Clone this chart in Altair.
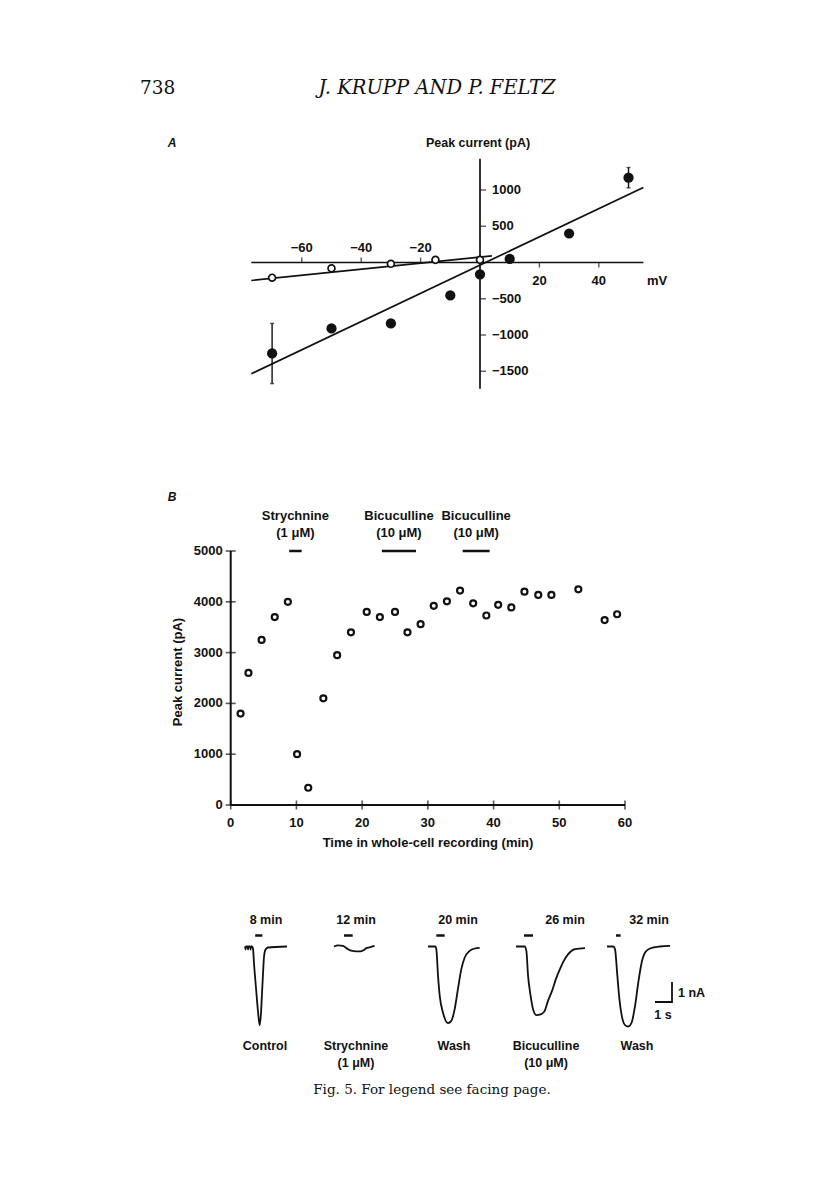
import altair as alt
import pandas as pd

M = 8  # page margin of the browser

# ---------------- text ----------------
PAGE_NUMBER = "738"
RUNNING_HEAD = "J. KRUPP AND P. FELTZ"
CAPTION = "Fig. 5. For legend see facing page."

# ---------------- Panel A : I-V relation ----------------
A_V_FILLED = [-70, -50, -30, -10, 0, 10, 30, 50]
A_I_FILLED = [-1255, -910, -840, -455, -165, 50, 400, 1170]
A_ERR_V = [-70, 50]
A_ERR_LO = [-1670, 1030]
A_ERR_HI = [-840, 1310]
A_V_OPEN = [-70, -50, -30, -15, 0]
A_I_OPEN = [-210, -80, -18, 37, 37]
A_FIT_FILLED_V = [-77, 55]
A_FIT_FILLED_I = [-1535, 1035]
A_FIT_OPEN_V = [-77, 4]
A_FIT_OPEN_I = [-248, 92]
A_XTICKS_NEG = [-60, -40, -20]
A_XTICKS_POS = [20, 40]
A_YTICKS = [1000, 500, -500, -1000, -1500]
A_XAXIS = [-77, 55]
A_YAXIS = [-1740, 1430]

# ---------------- Panel B : time course ----------------
B_T = [1.5, 2.7, 4.7, 6.7, 8.7, 10.1, 11.8, 14.1, 16.2, 18.3, 20.7, 22.7, 25.0, 26.9,
       28.9, 30.9, 32.9, 34.9, 36.9, 38.9, 40.7, 42.7, 44.7, 46.8, 48.8, 52.9, 56.9, 58.8]
B_I = [1800, 2600, 3250, 3700, 4000, 1000, 340, 2100, 2950, 3400, 3800, 3700, 3800, 3400,
       3560, 3920, 4010, 4220, 3970, 3730, 3940, 3890, 4200, 4135, 4135, 4245, 3640, 3755]
B_DRUG_NAME = ["Strychnine", "Bicuculline", "Bicuculline"]
B_DRUG_CONC = ["(1 \u03bcM)", "(10 \u03bcM)", "(10 \u03bcM)"]
B_DRUG_START = [8.9, 23.0, 35.3]
B_DRUG_END = [10.8, 28.2, 39.4]
B_DRUG_LEVEL = 5000
B_XTICKS = [0, 10, 20, 30, 40, 50, 60]
B_YTICKS = [0, 1000, 2000, 3000, 4000, 5000]

# ---------------- Panel C : current traces (s, nA) ----------------
C1_T = [0, 0.03, 0.06, 0.15, 0.18, 0.21, 0.30, 0.33, 0.36, 0.41, 0.47, 0.53, 0.65, 0.76,
        0.86, 0.94, 1.00, 1.06, 1.12, 1.21, 1.35, 2.47]
C1_I = [0, -0.15, 0, 0, -0.15, 0, 0, -0.15, 0, 0, -0.1, -0.85, -2.1, -3.2,
        -3.93, -3.35, -2.35, -1.35, -0.5, -0.15, -0.05, 0]
C2_T = [0, 0.24, 0.53, 0.82, 1.02, 1.31, 1.57, 1.76, 1.90, 2.10, 2.39]
C2_I = [0, 0.06, 0.03, -0.13, -0.21, -0.24, -0.24, -0.18, -0.08, -0.04, 0.03]
C3_T = [0, 0.43, 0.49, 0.59, 0.69, 0.88, 1.18, 1.37, 1.57, 1.76, 1.96, 2.16, 2.45, 2.75, 3.04]
C3_I = [0, 0, -0.13, -1.47, -2.47, -3.30, -3.83, -3.72, -3.13, -2.13, -1.13, -0.55, -0.22,
        -0.10, -0.07]
C4_T = [0, 0.51, 0.61, 0.71, 0.86, 1.00, 1.19, 1.49, 1.69, 1.88, 2.12, 2.35, 2.59, 2.78,
        3.07, 3.47, 4.06]
C4_I = [0, 0, -0.22, -1.47, -2.47, -3.13, -3.43, -3.38, -3.22, -2.72, -2.22, -1.62, -1.12,
        -0.77, -0.38, -0.13, -0.08]
C5_T = [0, 0.37, 0.47, 0.61, 0.73, 0.87, 1.06, 1.25, 1.45, 1.65, 1.84, 2.04, 2.24, 2.53,
        3.12, 3.71]
C5_I = [0, 0, -0.13, -1.47, -2.63, -3.47, -3.93, -4.00, -3.80, -2.97, -1.80, -0.80, -0.30,
        -0.10, 0, 0.03]
C_TRACES_T = [C1_T, C2_T, C3_T, C4_T, C5_T]
C_TRACES_I = [C1_I, C2_I, C3_I, C4_I, C5_I]
C_APP_START = [0.60, 0.59, 0.49, 0.47, 0.53]
C_APP_END = [1.02, 1.10, 0.98, 1.00, 0.80]
C_TIME_LABELS = ["8 min", "12 min", "20 min", "26 min", "32 min"]
C_COND = ["Control", "Strychnine", "Wash", "Bicuculline", "Wash"]
C_COND2 = ["", "(1 \u03bcM)", "", "(10 \u03bcM)", ""]
SCALEBAR_T = [0, 1, 1]
SCALEBAR_I = [0, 0, 1]

# ---------------- style / layout ----------------
SANS = "Liberation Sans"
SERIF = "DejaVu Serif"
INK = "#111111"
ONE = pd.DataFrame({"a": [0]})


def sc(domain, page_range):
    return alt.Scale(domain=domain, range=[p - M for p in page_range], nice=False, zero=False)


A_XS = sc([-80, 60], [242.4, 658.2])
A_YS = sc([-2000, 2000], [407.5, 117.5])
B_XS = sc([0, 60], [230.7, 625.0])
B_YS = sc([0, 5000], [805.0, 551.0])
C_X0 = [245, 334, 428, 516, 607]
C_YS = sc([-5, 1], [1046.5, 926.5])
SB_XS = sc([0, 1], [655, 672])
SB_YS = sc([0, 1], [1002, 982])


def X(f, s):
    return alt.X(f, type="quantitative", scale=s, axis=None)


def Y(f, s):
    return alt.Y(f, type="quantitative", scale=s, axis=None)


def label(text, x, y, size=13, align="center", font=SANS, weight="bold", style="normal", angle=0):
    return alt.Chart(ONE).mark_text(
        text=text, align=align, baseline="middle", font=font, fontSize=size,
        fontWeight=weight, fontStyle=style, angle=angle, color=INK
    ).encode(x=alt.value(x - M), y=alt.value(y - M))


layers = []

# header
layers.append(label(PAGE_NUMBER, 140, 88, size=18.5, align="left", font=SERIF, weight="normal"))
layers.append(label(RUNNING_HEAD, 437, 88, size=19.5, font=SERIF, weight="normal", style="italic"))

# ================= Panel A =================
layers.append(label("A", 172, 143, size=12, style="italic"))
layers.append(label("Peak current (pA)", 478, 143, size=12.5))
layers.append(label("mV", 657, 281, size=13))

axA = pd.DataFrame({"v0": [A_XAXIS[0]], "v1": [A_XAXIS[1]], "i": [0]})
layers.append(alt.Chart(axA).mark_rule(strokeWidth=1.7, color=INK).encode(
    x=X("v0", A_XS), x2="v1", y=Y("i", A_YS)))
ayA = pd.DataFrame({"v": [0], "i0": [A_YAXIS[0]], "i1": [A_YAXIS[1]]})
layers.append(alt.Chart(ayA).mark_rule(strokeWidth=1.7, color=INK).encode(
    x=X("v", A_XS), y=Y("i0", A_YS), y2="i1"))

tn = pd.DataFrame({"v": A_XTICKS_NEG, "i": [0] * len(A_XTICKS_NEG),
                   "t": ["\u2212" + str(-v) for v in A_XTICKS_NEG]})
tp = pd.DataFrame({"v": A_XTICKS_POS, "i": [0] * len(A_XTICKS_POS),
                   "t": [str(v) for v in A_XTICKS_POS]})
layers.append(alt.Chart(tn).mark_tick(orient="vertical", size=5, thickness=1.4, yOffset=-2.5,
                                      color=INK).encode(x=X("v", A_XS), y=Y("i", A_YS)))
layers.append(alt.Chart(tp).mark_tick(orient="vertical", size=5, thickness=1.4, yOffset=2.5,
                                      color=INK).encode(x=X("v", A_XS), y=Y("i", A_YS)))
layers.append(alt.Chart(tn).mark_text(dy=-15, font=SANS, fontSize=13, fontWeight="bold",
                                      color=INK).encode(x=X("v", A_XS), y=Y("i", A_YS), text="t:N"))
layers.append(alt.Chart(tp).mark_text(dy=18, font=SANS, fontSize=13, fontWeight="bold",
                                      color=INK).encode(x=X("v", A_XS), y=Y("i", A_YS), text="t:N"))
ty = pd.DataFrame({"v": [0] * len(A_YTICKS), "i": A_YTICKS,
                   "t": [str(i) if i > 0 else "\u2212" + str(-i) for i in A_YTICKS]})
layers.append(alt.Chart(ty).mark_tick(orient="horizontal", size=6, thickness=1.4, xOffset=3,
                                      color=INK).encode(x=X("v", A_XS), y=Y("i", A_YS)))
layers.append(alt.Chart(ty).mark_text(align="left", dx=12, font=SANS, fontSize=13,
                                      fontWeight="bold", color=INK).encode(
    x=X("v", A_XS), y=Y("i", A_YS), text="t:N"))

# fit lines
fitF = pd.DataFrame({"v": A_FIT_FILLED_V, "i": A_FIT_FILLED_I})
fitO = pd.DataFrame({"v": A_FIT_OPEN_V, "i": A_FIT_OPEN_I})
for d in (fitF, fitO):
    layers.append(alt.Chart(d).mark_line(strokeWidth=1.7, color=INK).encode(
        x=X("v", A_XS), y=Y("i", A_YS)))

# error bars
err = pd.DataFrame({"v": A_ERR_V, "lo": A_ERR_LO, "hi": A_ERR_HI})
layers.append(alt.Chart(err).mark_rule(strokeWidth=1.4, color=INK).encode(
    x=X("v", A_XS), y=Y("lo", A_YS), y2="hi"))
for f in ("lo", "hi"):
    layers.append(alt.Chart(err).mark_tick(orient="horizontal", size=4, thickness=1.4,
                                           color=INK).encode(x=X("v", A_XS), y=Y(f, A_YS)))

ptsF = pd.DataFrame({"v": A_V_FILLED, "i": A_I_FILLED})
layers.append(alt.Chart(ptsF).mark_circle(size=105, opacity=1, color=INK).encode(
    x=X("v", A_XS), y=Y("i", A_YS)))
ptsO = pd.DataFrame({"v": A_V_OPEN, "i": A_I_OPEN})
layers.append(alt.Chart(ptsO).mark_point(shape="circle", size=48, filled=True, fill="white",
                                         stroke=INK, strokeWidth=1.7, opacity=1).encode(
    x=X("v", A_XS), y=Y("i", A_YS)))

# ================= Panel B =================
layers.append(label("B", 172, 497, size=12, style="italic"))
layers.append(label("Time in whole-cell recording (min)", 428, 843, size=13))
layers.append(label("Peak current (pA)", 178, 672, size=13, angle=270))

axB = pd.DataFrame({"t0": [B_XTICKS[0]], "t1": [B_XTICKS[-1]], "i": [0]})
layers.append(alt.Chart(axB).mark_rule(strokeWidth=2, color=INK).encode(
    x=X("t0", B_XS), x2="t1", y=Y("i", B_YS)))
ayB = pd.DataFrame({"t": [0], "i0": [B_YTICKS[0]], "i1": [B_YTICKS[-1]]})
layers.append(alt.Chart(ayB).mark_rule(strokeWidth=2, color=INK).encode(
    x=X("t", B_XS), y=Y("i0", B_YS), y2="i1"))
bx = pd.DataFrame({"t": B_XTICKS, "i": [0] * len(B_XTICKS), "s": [str(v) for v in B_XTICKS]})
layers.append(alt.Chart(bx).mark_tick(orient="vertical", size=9, thickness=1.6, color=INK).encode(
    x=X("t", B_XS), y=Y("i", B_YS)))
layers.append(alt.Chart(bx).mark_text(dy=18, font=SANS, fontSize=13, fontWeight="bold",
                                      color=INK).encode(x=X("t", B_XS), y=Y("i", B_YS), text="s:N"))
by = pd.DataFrame({"t": [0] * len(B_YTICKS), "i": B_YTICKS, "s": [str(v) for v in B_YTICKS]})
layers.append(alt.Chart(by).mark_tick(orient="horizontal", size=10, thickness=1.6, color=INK).encode(
    x=X("t", B_XS), y=Y("i", B_YS)))
layers.append(alt.Chart(by).mark_text(align="right", dx=-8, font=SANS, fontSize=13,
                                      fontWeight="bold", color=INK).encode(
    x=X("t", B_XS), y=Y("i", B_YS), text="s:N"))

drugs = pd.DataFrame({"t0": B_DRUG_START, "t1": B_DRUG_END,
                      "tm": [(a + b) / 2 for a, b in zip(B_DRUG_START, B_DRUG_END)],
                      "i": [B_DRUG_LEVEL] * 3, "n": B_DRUG_NAME, "c": B_DRUG_CONC})
layers.append(alt.Chart(drugs).mark_rule(strokeWidth=2.5, color=INK).encode(
    x=X("t0", B_XS), x2="t1", y=Y("i", B_YS)))
layers.append(alt.Chart(drugs).mark_text(dy=-35, font=SANS, fontSize=13, fontWeight="bold",
                                         color=INK).encode(x=X("tm", B_XS), y=Y("i", B_YS), text="n:N"))
layers.append(alt.Chart(drugs).mark_text(dy=-18, font=SANS, fontSize=13, fontWeight="bold",
                                         color=INK).encode(x=X("tm", B_XS), y=Y("i", B_YS), text="c:N"))

ptsB = pd.DataFrame({"t": B_T, "i": B_I})
layers.append(alt.Chart(ptsB).mark_point(shape="circle", size=36, filled=False, stroke=INK,
                                         strokeWidth=2.2, opacity=1).encode(
    x=X("t", B_XS), y=Y("i", B_YS)))

# ================= Panel C =================
for k in range(5):
    xs = sc([0, 5], [C_X0[k], C_X0[k] + 85])
    d = pd.DataFrame({"t": C_TRACES_T[k], "i": C_TRACES_I[k], "k": list(range(len(C_TRACES_T[k])))})
    layers.append(alt.Chart(d).mark_line(strokeWidth=1.8, color=INK, interpolate="monotone").encode(
        x=X("t", xs), y=Y("i", C_YS), order=alt.Order("k:Q")))
    app = pd.DataFrame({"t0": [C_APP_START[k]], "t1": [C_APP_END[k]]})
    layers.append(alt.Chart(app).mark_rule(strokeWidth=2.5, color=INK).encode(
        x=X("t0", xs), x2="t1", y=alt.value(935.5 - M)))

C_TIME_X = [266, 356, 458, 565, 649]
C_COND_X = [265, 356, 454, 546, 637]
for k in range(5):
    layers.append(label(C_TIME_LABELS[k], C_TIME_X[k], 920, size=12.5))
    layers.append(label(C_COND[k], C_COND_X[k], 1046, size=12.5))
    if C_COND2[k]:
        layers.append(label(C_COND2[k], C_COND_X[k], 1063, size=12.5))

sb = pd.DataFrame({"t": SCALEBAR_T, "i": SCALEBAR_I, "k": [0, 1, 2]})
layers.append(alt.Chart(sb).mark_line(strokeWidth=1.8, color=INK).encode(
    x=X("t", SB_XS), y=Y("i", SB_YS), order=alt.Order("k:Q")))
layers.append(label("1 nA", 678, 993, size=12.5, align="left"))
layers.append(label("1 s", 663, 1015, size=12.5))

# caption
layers.append(label(CAPTION, 432, 1090, size=13.5, font=SERIF, weight="normal"))

chart = alt.layer(*layers).resolve_scale(x="independent", y="independent").properties(
    width=800, height=1184, padding=0,
    autosize=alt.AutoSizeParams(type="none"),
    background="white",
).configure_view(strokeWidth=0)

chart.save("out.html", embed_options={"renderer": "svg", "actions": False})
